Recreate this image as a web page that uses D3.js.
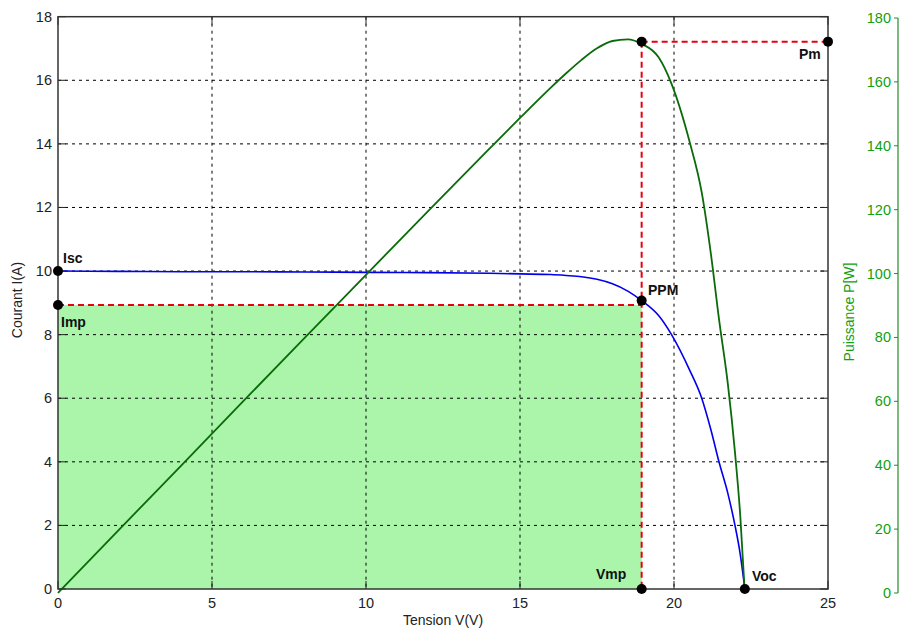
<!DOCTYPE html>
<html><head><meta charset="utf-8">
<script src="https://cdn.jsdelivr.net/npm/d3@7/dist/d3.min.js"></script>
<style>body{margin:0;background:#fff}svg{display:block;font-family:"Liberation Sans",Arial,sans-serif}</style>
</head><body>
<svg id="c" width="901" height="630"></svg>
<script>
// Data
const voltage = [0, 2, 4, 6, 8, 10, 12, 14, 15, 16, 16.5, 17, 17.5, 18, 18.5, 18.95, 19.5, 19.92, 20.5, 20.9, 21.2, 21.46, 21.75, 21.98, 22.15, 22.3];
const current = [10, 9.99, 9.98, 9.98, 9.97, 9.96, 9.95, 9.93, 9.91, 9.89, 9.86, 9.82, 9.74, 9.6, 9.37, 9.07, 8.6, 8.0, 6.9, 6.0, 5.0, 4.0, 3.0, 2.0, 1.1, 0];
const power   = [0, 20.0, 39.9, 59.9, 79.8, 99.6, 119.4, 139.0, 148.7, 158.2, 162.7, 166.9, 170.5, 172.8, 173.3, 171.9, 167.7, 159.4, 141.5, 125.4, 106.0, 85.8, 65.3, 44.0, 24.4, 0];
const xTicks = [0, 5, 10, 15, 20, 25];
const yTicks = [0, 2, 4, 6, 8, 10, 12, 14, 16, 18];
const pTicks = [0, 20, 40, 60, 80, 100, 120, 140, 160, 180];
const Isc = 10, Imp = 8.93, Vmp = 18.95, Ippm = 9.07, Voc = 22.3, Pm = 172.6, Vmax = 25;

const svg = d3.select("#c");
const L = 58, R = 828, T = 16.7, B = 589;
const x = d3.scaleLinear().domain([0, 25]).range([L, R]);
const y = d3.scaleLinear().domain([0, 18]).range([B, T]);
const yp = d3.scaleLinear().domain([0, 180]).range([593, 18]);

// green fill
svg.append("rect").attr("x", x(0)).attr("y", y(Imp)).attr("width", x(Vmp) - x(0)).attr("height", y(0) - y(Imp)).attr("fill", "#aaf5aa");

// grid
const g = svg.append("g");
xTicks.slice(1, -1).forEach(t => g.append("line").attr("x1", x(t)).attr("x2", x(t)).attr("y1", T).attr("y2", B)
  .attr("stroke", "#000").attr("stroke-width", 1).attr("stroke-dasharray", "3,4"));
yTicks.slice(1, -1).forEach(t => g.append("line").attr("x1", L).attr("x2", R).attr("y1", y(t)).attr("y2", y(t))
  .attr("stroke", "#000").attr("stroke-width", 1).attr("stroke-dasharray", "3,4"));

// ticks (inward, all sides)
const tk = svg.append("g").attr("stroke", "#222").attr("stroke-width", 1);
xTicks.forEach(t => {
  tk.append("line").attr("x1", x(t)).attr("x2", x(t)).attr("y1", B).attr("y2", B - 8);
  tk.append("line").attr("x1", x(t)).attr("x2", x(t)).attr("y1", T).attr("y2", T + 8);
});
yTicks.forEach(t => {
  tk.append("line").attr("x1", L).attr("x2", L + 8).attr("y1", y(t)).attr("y2", y(t));
  tk.append("line").attr("x1", R).attr("x2", R - 8).attr("y1", y(t)).attr("y2", y(t));
});

// red dashed lines
const red = svg.append("g").attr("stroke", "#e8000b").attr("stroke-width", 2).attr("stroke-dasharray", "6,4").attr("fill", "none");
red.append("line").attr("x1", x(0)).attr("x2", x(Vmp)).attr("y1", y(Imp)).attr("y2", y(Imp));
red.append("line").attr("x1", x(Vmp)).attr("x2", x(Vmp)).attr("y1", yp(Pm)).attr("y2", y(0));
red.append("line").attr("x1", x(Vmp)).attr("x2", x(Vmax)).attr("y1", yp(Pm)).attr("y2", yp(Pm));

// curves
const pts = voltage.map((v, i) => ({v, i: current[i], p: power[i]}));
svg.append("path").datum(pts).attr("fill", "none").attr("stroke", "#0000ee").attr("stroke-width", 1.6)
  .attr("d", d3.line().x(d => x(d.v)).y(d => y(d.i)).curve(d3.curveMonotoneX));
svg.append("path").datum(pts).attr("fill", "none").attr("stroke", "#0a6b0a").attr("stroke-width", 1.8)
  .attr("d", d3.line().x(d => x(d.v)).y(d => yp(d.p)).curve(d3.curveMonotoneX));

// frame
svg.append("rect").attr("x", L).attr("y", T).attr("width", R - L).attr("height", B - T).attr("fill", "none").attr("stroke", "#333").attr("stroke-width", 1.5);

// dots
const dots = [[x(0), y(Isc)], [x(0), y(Imp)], [x(Vmp), y(Ippm)], [x(Vmax), yp(Pm)], [x(Vmp), y(0)], [x(Voc), y(0)], [x(Vmp), yp(Pm)]];
dots.forEach(d => svg.append("circle").attr("cx", d[0]).attr("cy", d[1]).attr("r", 5).attr("fill", "#000"));

// point labels
const lab = [["Isc", 63, 263], ["Imp", 61, 327], ["PPM", 648, 295], ["Pm", 799, 59], ["Vmp", 596, 579], ["Voc", 752, 581]];
lab.forEach(l => svg.append("text").attr("x", l[1]).attr("y", l[2]).attr("font-size", 14).attr("font-weight", "bold").attr("fill", "#111").text(l[0]));

// left tick labels
yTicks.forEach(t => svg.append("text").attr("x", 52).attr("y", y(t) + 5).attr("text-anchor", "end").attr("font-size", 14.5).attr("fill", "#222").text(t));
xTicks.forEach(t => svg.append("text").attr("x", x(t)).attr("y", 608).attr("text-anchor", "middle").attr("font-size", 14.5).attr("fill", "#222").text(t));

// axis titles
svg.append("text").attr("transform", "translate(22,300) rotate(-90)").attr("text-anchor", "middle").attr("font-size", 14).attr("fill", "#222").text("Courant I(A)");
svg.append("text").attr("x", 443).attr("y", 625).attr("text-anchor", "middle").attr("font-size", 14).attr("fill", "#222").text("Tension V(V)");

// right axis
const ra = svg.append("g");
ra.append("line").attr("x1", 898).attr("x2", 898).attr("y1", yp(180)).attr("y2", yp(0)).attr("stroke", "#2a8a2a").attr("stroke-width", 1.2);
pTicks.forEach(t => {
  ra.append("line").attr("x1", 894).attr("x2", 898).attr("y1", yp(t)).attr("y2", yp(t)).attr("stroke", "#2a8a2a");
  ra.append("text").attr("x", 891).attr("y", yp(t) + 5).attr("text-anchor", "end").attr("font-size", 14.5).attr("fill", "#11a011").text(t);
});
svg.append("text").attr("transform", "translate(854,312) rotate(-90)").attr("text-anchor", "middle").attr("font-size", 14).attr("fill", "#11a011").text("Puissance P[W]");
</script>
</body></html>
